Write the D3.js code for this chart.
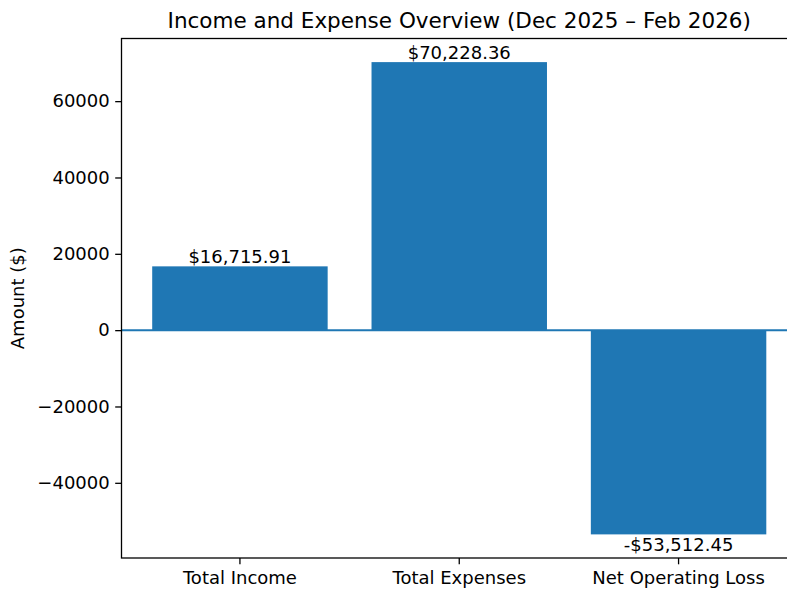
<!DOCTYPE html>
<html><head><meta charset="utf-8">
<script src="https://cdn.jsdelivr.net/npm/d3@7"></script>
<style>body{margin:0;background:#fff;} text{font-family:"DejaVu Sans",sans-serif;fill:#000;}</style>
</head><body>
<svg id="c" width="787" height="590"></svg>
<script>
const categories = ["Total Income", "Total Expenses", "Net Operating Loss"];
const values = [16715.91, 70228.36, -53512.45];
const valueLabels = ["$16,715.91", "$70,228.36", "-$53,512.45"];
const yTicks = [-40000, -20000, 0, 20000, 40000, 60000];
const yTickLabels = ["\u221240000", "\u221220000", "0", "20000", "40000", "60000"];
const titleText = "Income and Expense Overview (Dec 2025 \u2013 Feb 2026)";
const yLabel = "Amount ($)";

const svg = d3.select("#c");
const L = 121.5, R = 797, T = 38.5, B = 558;
const color = "#1f77b4";
const fs = "18px";

const vmin = d3.min(values.concat([0])), vmax = d3.max(values.concat([0]));
const pad = (vmax - vmin) * 0.05;
const y = d3.scaleLinear().domain([vmin - pad, vmax + pad]).range([B, T]);
const x = d3.scaleBand().domain(categories).range([L, R]).paddingInner(0.2).paddingOuter(0.14);

// bars
svg.append("g").selectAll("rect").data(values).join("rect")
  .attr("x", (d, i) => x(categories[i]))
  .attr("width", x.bandwidth())
  .attr("y", d => y(Math.max(0, d)))
  .attr("height", d => Math.abs(y(d) - y(0)))
  .attr("fill", color);

// zero line
svg.append("line").attr("x1", L).attr("x2", R).attr("y1", y(0)).attr("y2", y(0))
  .attr("stroke", color).attr("stroke-width", 2);

// value labels
svg.append("g").selectAll("text").data(values).join("text")
  .attr("x", (d, i) => x(categories[i]) + x.bandwidth() / 2)
  .attr("y", d => d >= 0 ? y(d) - 3.5 : y(d) + 16.5)
  .attr("text-anchor", "middle")
  .attr("font-size", fs)
  .text((d, i) => valueLabels[i]);

// y axis
const yAxis = d3.axisLeft(y).tickValues(yTicks).tickSize(6.3).tickPadding(5.5)
  .tickFormat((d, i) => yTickLabels[i]);
const gy = svg.append("g").attr("transform", `translate(${L},0)`).call(yAxis);
gy.select(".domain").remove();
gy.selectAll("text").attr("font-size", fs).attr("font-family", "DejaVu Sans").attr("fill", "#000");
gy.selectAll("line").attr("stroke", "#000").attr("stroke-width", 1.3);

// x axis
const xAxis = d3.axisBottom(x).tickSize(6.3).tickPadding(7);
const gx = svg.append("g").attr("transform", `translate(0,${B})`).call(xAxis);
gx.select(".domain").remove();
gx.selectAll("text").attr("font-size", fs).attr("font-family", "DejaVu Sans").attr("fill", "#000");
gx.selectAll("line").attr("stroke", "#000").attr("stroke-width", 1.3);

// spines
svg.append("rect").attr("x", L).attr("y", T).attr("width", R - L).attr("height", B - T)
  .attr("fill", "none").attr("stroke", "#000").attr("stroke-width", 1.3);

// title
svg.append("text").attr("x", (L + R) / 2).attr("y", 28).attr("text-anchor", "middle")
  .attr("font-size", "21.5px").text(titleText);

// y label
svg.append("text").attr("transform", `translate(24,${(T + B) / 2}) rotate(-90)`)
  .attr("text-anchor", "middle").attr("font-size", fs).text(yLabel);
</script>
</body></html>
